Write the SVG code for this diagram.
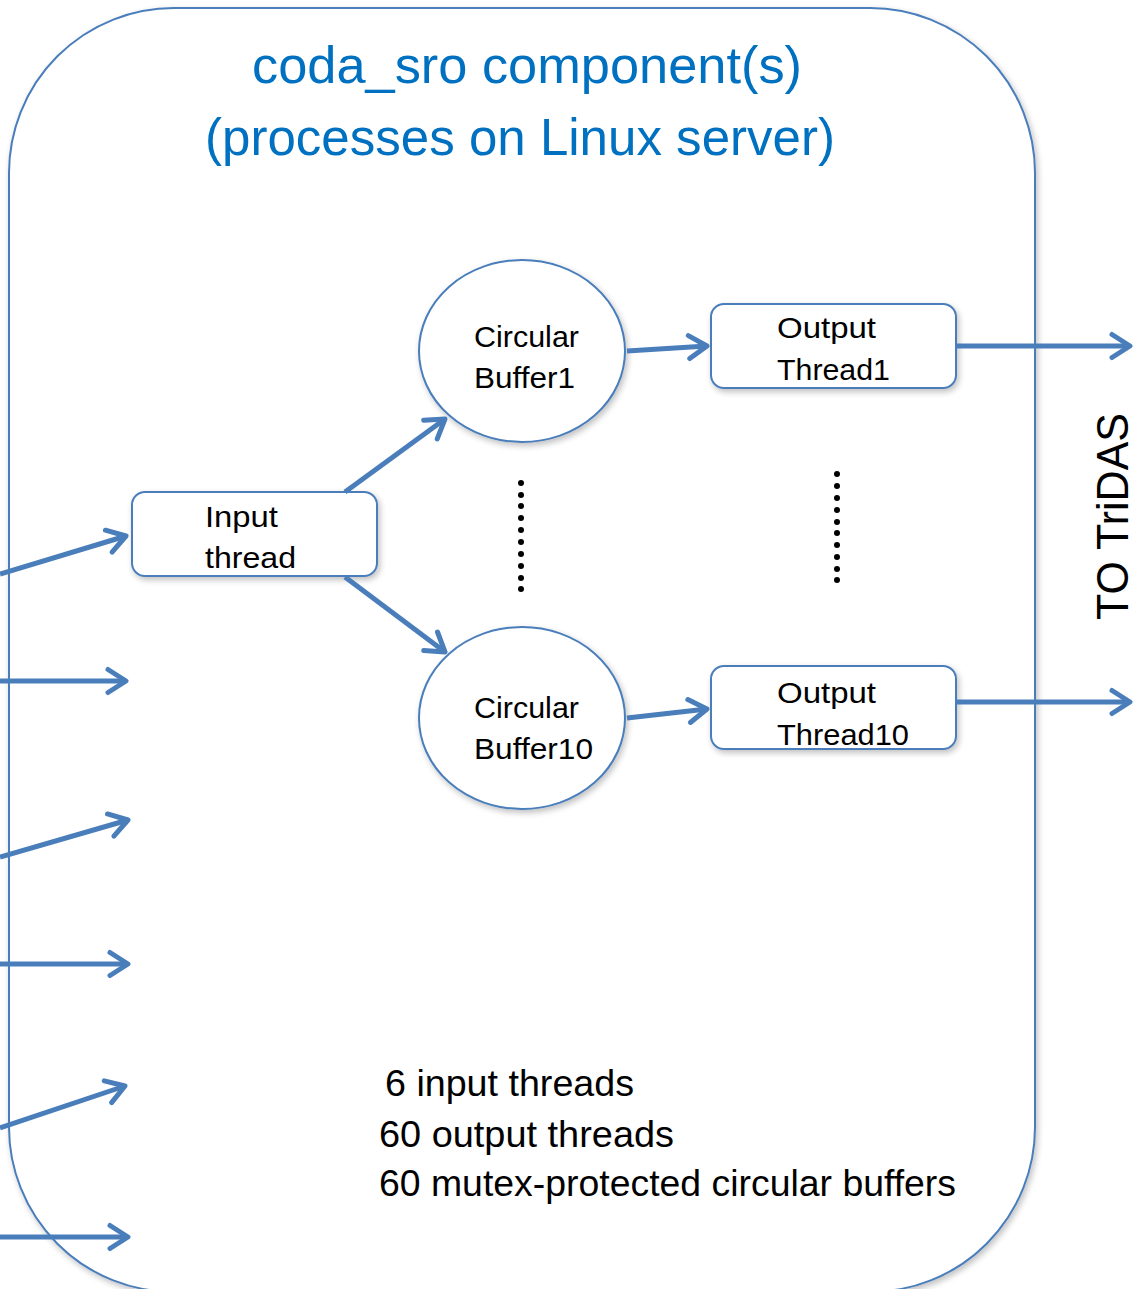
<svg xmlns="http://www.w3.org/2000/svg" width="1143" height="1289" viewBox="0 0 1143 1289">
<style>
.node{fill:#fff;stroke:#4A7EBB;stroke-width:2;filter:url(#sh)}
.lbl{font-family:"Liberation Sans",Arial,sans-serif;font-size:30px;fill:#000}
.title{font-family:"Liberation Sans",Arial,sans-serif;font-size:52px;fill:#0070C0}
.note{font-family:"Liberation Sans",Arial,sans-serif;font-size:36px;fill:#000}
.conn{fill:none;stroke:#4A7EBB;stroke-width:5;marker-end:url(#ah)}
.dot{fill:#000}
</style>
<defs>
<filter id="sh" x="-10%" y="-10%" width="130%" height="130%">
<feGaussianBlur in="SourceAlpha" stdDeviation="3"/>
<feOffset dx="2" dy="3" result="b"/>
<feComponentTransfer><feFuncA type="linear" slope="0.25"/></feComponentTransfer>
<feMerge><feMergeNode/><feMergeNode in="SourceGraphic"/></feMerge>
</filter>
<marker id="ah" markerUnits="userSpaceOnUse" markerWidth="30" markerHeight="30" viewBox="-25 -15 30 30" refX="0" refY="0" orient="auto">
<path d="M-18,-11.5 L0,0 L-18,11.5" fill="none" stroke="#4A7EBB" stroke-width="5" stroke-linecap="round" stroke-linejoin="round"/>
</marker>
</defs>
<rect width="1143" height="1289" fill="#fff"/>
<g id="container">
<rect class="node" x="9" y="8" width="1026" height="1284" rx="165" ry="165"/>
<text class="title" x="252" y="83" textLength="550" lengthAdjust="spacingAndGlyphs">coda_sro component(s)</text>
<text class="title" x="205" y="155" textLength="630" lengthAdjust="spacingAndGlyphs">(processes on Linux server)</text>
</g>
<g id="input-thread">
<rect class="node" x="132" y="492" width="245" height="84" rx="13"/>
<text class="lbl" x="205" y="527" textLength="73" lengthAdjust="spacingAndGlyphs">Input</text>
<text class="lbl" x="205" y="568" textLength="91" lengthAdjust="spacingAndGlyphs">thread</text>
</g>
<g id="circular-buffer1">
<ellipse class="node" cx="522" cy="351" rx="103" ry="91"/>
<text class="lbl" x="474" y="347" textLength="105" lengthAdjust="spacingAndGlyphs">Circular</text>
<text class="lbl" x="474" y="388" textLength="101" lengthAdjust="spacingAndGlyphs">Buffer1</text>
</g>
<g id="circular-buffer10">
<ellipse class="node" cx="522" cy="718" rx="103" ry="91"/>
<text class="lbl" x="474" y="718" textLength="105" lengthAdjust="spacingAndGlyphs">Circular</text>
<text class="lbl" x="474" y="759" textLength="119" lengthAdjust="spacingAndGlyphs">Buffer10</text>
</g>
<g id="output-thread1">
<rect class="node" x="711" y="304" width="245" height="84" rx="13"/>
<text class="lbl" x="777" y="338" textLength="99" lengthAdjust="spacingAndGlyphs">Output</text>
<text class="lbl" x="777" y="380" textLength="113" lengthAdjust="spacingAndGlyphs">Thread1</text>
</g>
<g id="output-thread10">
<rect class="node" x="711" y="666" width="245" height="83" rx="13"/>
<text class="lbl" x="777" y="703" textLength="99" lengthAdjust="spacingAndGlyphs">Output</text>
<text class="lbl" x="777" y="745" textLength="132" lengthAdjust="spacingAndGlyphs">Thread10</text>
</g>
<g id="dots-left">
<circle class="dot" cx="521" cy="483" r="3"/><circle class="dot" cx="521" cy="495" r="3"/><circle class="dot" cx="521" cy="506" r="3"/><circle class="dot" cx="521" cy="518" r="3"/><circle class="dot" cx="521" cy="530" r="3"/><circle class="dot" cx="521" cy="542" r="3"/><circle class="dot" cx="521" cy="554" r="3"/><circle class="dot" cx="521" cy="566" r="3"/><circle class="dot" cx="521" cy="578" r="3"/><circle class="dot" cx="521" cy="589" r="3"/>
</g>
<g id="dots-right">
<circle class="dot" cx="837" cy="474" r="3"/><circle class="dot" cx="837" cy="486" r="3"/><circle class="dot" cx="837" cy="498" r="3"/><circle class="dot" cx="837" cy="510" r="3"/><circle class="dot" cx="837" cy="522" r="3"/><circle class="dot" cx="837" cy="533" r="3"/><circle class="dot" cx="837" cy="545" r="3"/><circle class="dot" cx="837" cy="557" r="3"/><circle class="dot" cx="837" cy="569" r="3"/><circle class="dot" cx="837" cy="580" r="3"/>
</g>
<g id="connectors">
<line class="conn" x1="0" y1="574" x2="126" y2="536"/>
<line class="conn" x1="0" y1="681" x2="126" y2="681"/>
<line class="conn" x1="0" y1="857" x2="128" y2="820"/>
<line class="conn" x1="0" y1="964" x2="128" y2="964"/>
<line class="conn" x1="0" y1="1128" x2="125" y2="1086"/>
<line class="conn" x1="0" y1="1237" x2="128" y2="1237"/>
<line class="conn" x1="345" y1="492" x2="445" y2="419"/>
<line class="conn" x1="345" y1="577" x2="445" y2="652"/>
<line class="conn" x1="627" y1="351" x2="707" y2="346"/>
<line class="conn" x1="627" y1="718" x2="707" y2="709"/>
<line class="conn" x1="957" y1="346" x2="1130" y2="346"/>
<line class="conn" x1="957" y1="702" x2="1130" y2="702"/>
</g>
<g id="labels">
<text class="lbl" transform="translate(1128,620) rotate(-90)" style="font-size:44px" textLength="207" lengthAdjust="spacingAndGlyphs">TO TriDAS</text>
<text class="note" x="385" y="1096" textLength="249" lengthAdjust="spacingAndGlyphs">6 input threads</text>
<text class="note" x="379" y="1147" textLength="295" lengthAdjust="spacingAndGlyphs">60 output threads</text>
<text class="note" x="379" y="1196" textLength="577" lengthAdjust="spacingAndGlyphs">60 mutex-protected circular buffers</text>
</g>
</svg>
